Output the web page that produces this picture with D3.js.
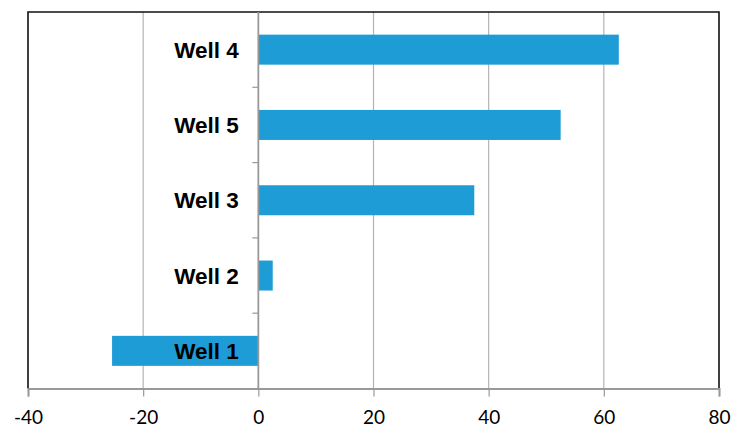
<!DOCTYPE html>
<html><head><meta charset="utf-8">
<script src="https://cdn.jsdelivr.net/npm/d3@7"></script>
<style>body{margin:0;background:#fff}</style>
</head><body>
<svg id="c" width="733" height="428"></svg>
<script>
const categories = ["Well 4", "Well 5", "Well 3", "Well 2", "Well 1"];
const values = [62.6, 52.5, 37.5, 2.5, -25.4];
const xTicks = [-40, -20, 0, 20, 40, 60, 80];

const svg = d3.select("#c");
const L = 28, R = 719, T = 12, B = 388.5;
const x = d3.scaleLinear().domain([-40, 80]).range([L, R]);
const yb = d3.scaleBand().domain(categories).range([T, B]);

// gridlines
svg.append("g").selectAll("line").data(xTicks.filter(d => d !== -40 && d !== 80 && d !== 0))
  .join("line").attr("x1", d => x(d)).attr("x2", d => x(d)).attr("y1", T).attr("y2", B)
  .attr("stroke", "#b3b3b3").attr("stroke-width", 1.2);

// bars
svg.append("g").selectAll("rect").data(values).join("rect")
  .attr("x", d => x(Math.min(0, d)))
  .attr("width", d => Math.abs(x(d) - x(0)))
  .attr("y", (d, i) => yb(categories[i]) + yb.bandwidth() / 2 - 15)
  .attr("height", 30)
  .attr("fill", "#1d9cd6");

// plot border (top, left, right)
svg.append("path").attr("d", `M${L},${B}V${T}H${R}V${B}`)
  .attr("fill", "none").attr("stroke", "#111").attr("stroke-width", 1.6);

// x axis
const xAxis = svg.append("g").attr("transform", `translate(0,${B})`)
  .call(d3.axisBottom(x).tickValues(xTicks).tickSize(8).tickPadding(14.5).tickFormat(d => String(d)));
xAxis.select(".domain").attr("stroke", "#999").attr("stroke-width", 2);
xAxis.selectAll(".tick line").attr("stroke", "#999").attr("stroke-width", 1.2);
xAxis.selectAll("text").attr("font-family", "Lato, 'Open Sans', sans-serif").attr("font-size", 19).attr("fill", "#000");

// zero (category) axis
svg.append("line").attr("x1", x(0)).attr("x2", x(0)).attr("y1", T).attr("y2", B)
  .attr("stroke", "#999").attr("stroke-width", 1.8);
svg.append("g").selectAll("line").data(categories.slice(1)).join("line")
  .attr("x1", x(0) - 6).attr("x2", x(0)).attr("y1", d => yb(d)).attr("y2", d => yb(d))
  .attr("stroke", "#999").attr("stroke-width", 1.2);

// category labels
svg.append("g").selectAll("text").data(categories).join("text")
  .attr("x", x(0) - 19.5).attr("y", d => yb(d) + yb.bandwidth() / 2)
  .attr("dy", "0.36em").attr("text-anchor", "end")
  .attr("font-family", "'Liberation Sans', Arial, sans-serif").attr("font-weight", "bold")
  .attr("font-size", 22.5).attr("fill", "#000").text(d => d);
</script>
</body></html>
